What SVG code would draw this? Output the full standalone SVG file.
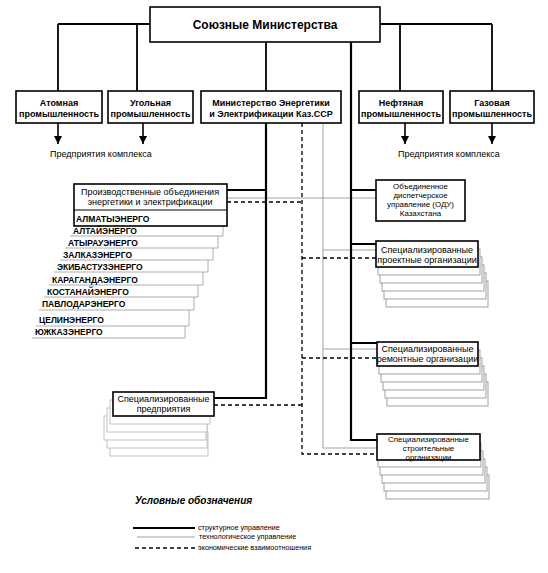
<svg xmlns="http://www.w3.org/2000/svg" width="548" height="573" viewBox="0 0 548 573">
<defs>
<style>
.box{fill:#fff;stroke:#000;stroke-width:1.6}
.card{fill:#fff;stroke:#8a8a8a;stroke-width:0.8}
.lcard{fill:#fff;stroke:#b5b5b5;stroke-width:0.8}
.thick{fill:none;stroke:#000;stroke-width:2.2}
.bus{fill:none;stroke:#000;stroke-width:1.8}
.thin{fill:none;stroke:#999;stroke-width:0.9}
.dash{fill:none;stroke:#000;stroke-width:1.3;stroke-dasharray:4 3}
.arr{fill:none;stroke:#000;stroke-width:1.6}
.row{fill:none;stroke:#999;stroke-width:0.8}
text{font-family:"Liberation Sans",Arial,Helvetica,sans-serif;fill:#000}
.t12{font-size:12px;font-weight:bold}
.b9{font-size:9px;font-weight:bold}
.r9{font-size:9px}
.r8{font-size:7.9px}
.e{font-size:8.5px;font-weight:bold}
.leg{font-size:7.2px}
.c{text-anchor:middle}
</style>
<marker id="ah" viewBox="0 0 8 8" refX="8" refY="4" markerWidth="8" markerHeight="8" markerUnits="userSpaceOnUse" orient="auto">
<path d="M0,0 L8,4 L0,8 z" fill="#000"/>
</marker>
</defs>
<rect width="548" height="573" fill="#fff"/>

<g id="connectors">
<path class="bus" d="M58,24 H492 M58,24 V91 M137,24 V91 M266,42 V91 M400,24 V91 M492,24 V91"/>
<path class="arr" d="M58,123 V144" marker-end="url(#ah)"/>
<path class="arr" d="M143,123 V144" marker-end="url(#ah)"/>
<path class="arr" d="M405,123 V144" marker-end="url(#ah)"/>
<path class="arr" d="M492,123 V144" marker-end="url(#ah)"/>
<path class="thin" d="M323,123 V448 H377 M227,198 H376 M323,250 H376 M323,349 H377"/>
<path class="dash" d="M302,123 V454 H377 M227,202 H302 M302,258 H376 M302,358 H377 M214,405 H302"/>
<path class="thick" d="M266,123 V398 H214 M227,190 H266 M351,42 V440 H377 M351,190 H376 M351,244 H376 M351,343 H377"/>
</g>

<g id="n-soyuz">
<rect class="box" x="150" y="7" width="230" height="35"/>
<text class="t12 c" x="265" y="29">Союзные Министерства</text>
</g>

<g id="n-atom">
<rect class="box" x="16" y="91" width="86" height="32"/>
<text class="b9 c" x="59" y="106">Атомная</text>
<text class="b9 c" x="59" y="117">промышленность</text>
</g>
<g id="n-ugol">
<rect class="box" x="108" y="91" width="85" height="32"/>
<text class="b9 c" x="150.5" y="106">Угольная</text>
<text class="b9 c" x="150.5" y="117">промышленность</text>
</g>
<g id="n-minenergo">
<rect class="box" x="201" y="91" width="140" height="32"/>
<text class="b9 c" x="271" y="106">Министерство Энергетики</text>
<text class="b9 c" x="271" y="117">и Электрификации Каз.ССР</text>
</g>
<g id="n-neft">
<rect class="box" x="359" y="91" width="84" height="32"/>
<text class="b9 c" x="401" y="106">Нефтяная</text>
<text class="b9 c" x="401" y="117">промышленность</text>
</g>
<g id="n-gaz">
<rect class="box" x="450" y="91" width="84" height="32"/>
<text class="b9 c" x="492" y="106">Газовая</text>
<text class="b9 c" x="492" y="117">промышленность</text>
</g>

<g id="n-pred-left">
<text class="r9" x="50" y="157">Предприятия комплекса</text>
</g>
<g id="n-pred-right">
<text class="r9" x="398" y="157">Предприятия комплекса</text>
</g>

<g id="n-proizv">
<path class="row" d="M70,236 H223 V226 M65,248 H218 V236 M60,260 H213 V248 M54,272 H208 V260 M49,285 H203 V272 M44,297 H198 V285 M39,310 H194 V297 M36,326 H189 V310 M32,338 H185 V326"/>
<rect class="box" x="74" y="184" width="153" height="42"/>
<text class="r9 c" x="150" y="195">Производственные объединения</text>
<text class="r9 c" x="150" y="205">энергетики и электрификации</text>
<line x1="74" y1="210" x2="227" y2="210" stroke="#000" stroke-width="1"/>
<text class="e" x="76" y="222">АЛМАТЫЭНЕРГО</text>
<text class="e" x="73" y="234">АЛТАЙЭНЕРГО</text>
<text class="e" x="68" y="246">АТЫРАУЭНЕРГО</text>
<text class="e" x="63" y="258">ЗАЛКАЗЭНЕРГО</text>
<text class="e" x="57" y="270">ЭКИБАСТУЗЭНЕРГО</text>
<text class="e" x="52" y="283">КАРАГАНДАЭНЕРГО</text>
<text class="e" x="47" y="295">КОСТАНАЙЭНЕРГО</text>
<text class="e" x="42" y="307">ПАВЛОДАРЭНЕРГО</text>
<text class="e" x="39" y="323">ЦЕЛИНЭНЕРГО</text>
<text class="e" x="35" y="335">ЮЖКАЗЭНЕРГО</text>
</g>

<g id="n-odu">
<rect class="box" x="376" y="180" width="89" height="41"/>
<text class="r8 c" x="420.5" y="189">Объединенное</text>
<text class="r8 c" x="420.5" y="198">диспетчерское</text>
<text class="r8 c" x="420.5" y="207">управление (ОДУ)</text>
<text class="r8 c" x="420.5" y="216">Казахстана</text>
</g>

<g id="n-proekt">
<rect class="card" x="386" y="281" width="102" height="26"/>
<rect class="card" x="384" y="273" width="102" height="26"/>
<rect class="card" x="382" y="265" width="102" height="26"/>
<rect class="card" x="380" y="257" width="102" height="26"/>
<rect class="card" x="378" y="249" width="102" height="26"/>
<rect class="box" x="376" y="241" width="102" height="26"/>
<text class="r9 c" x="427" y="253">Специализированные</text>
<text class="r9 c" x="427" y="263">проектные организации</text>
</g>

<g id="n-remont">
<rect class="card" x="387" y="382" width="101" height="24"/>
<rect class="card" x="385" y="374" width="101" height="24"/>
<rect class="card" x="383" y="366" width="101" height="24"/>
<rect class="card" x="381" y="358" width="101" height="24"/>
<rect class="card" x="379" y="350" width="101" height="24"/>
<rect class="box" x="377" y="342" width="101" height="24"/>
<text class="r9 c" x="427.5" y="352">Специализированные</text>
<text class="r9 c" x="427.5" y="362">ремонтные организации</text>
</g>

<g id="n-stroit">
<rect class="card" x="386" y="475" width="103" height="24"/>
<rect class="card" x="384" y="467" width="103" height="24"/>
<rect class="card" x="382" y="459" width="103" height="24"/>
<rect class="card" x="380" y="451" width="103" height="24"/>
<rect class="card" x="378" y="443" width="103" height="24"/>
<rect class="box" x="377" y="434" width="103" height="26"/>
<text class="r8 c" x="428.5" y="441.5">Специализированные</text>
<text class="r8 c" x="428.5" y="450.5">строительные</text>
<text class="r8 c" x="428.5" y="459.5">организации</text>
</g>

<g id="n-predpr">
<rect class="lcard" x="110" y="432" width="98" height="24"/>
<rect class="lcard" x="107" y="424" width="100" height="24"/>
<rect class="lcard" x="104" y="416" width="102" height="24"/>
<rect class="lcard" x="107" y="408" width="100" height="24"/>
<rect class="lcard" x="110" y="400" width="100" height="24"/>
<rect class="box" x="113" y="392" width="101" height="24"/>
<text class="r9 c" x="163.5" y="402">Специализированные</text>
<text class="r9 c" x="163.5" y="412">предприятия</text>
</g>

<g id="legend">
<text x="135" y="504" style="font-size:10px;font-weight:bold;font-style:italic">Условные обозначения</text>
<path class="thick" d="M133,528 H195"/>
<path class="thin" d="M137,537 H195"/>
<path class="dash" d="M135,548 H195"/>
<text class="leg" x="198" y="530">структурное управление</text>
<text class="leg" x="199" y="539">технологическое управление</text>
<text class="leg" x="198" y="550">экономические взаимоотношения</text>
</g>
</svg>
